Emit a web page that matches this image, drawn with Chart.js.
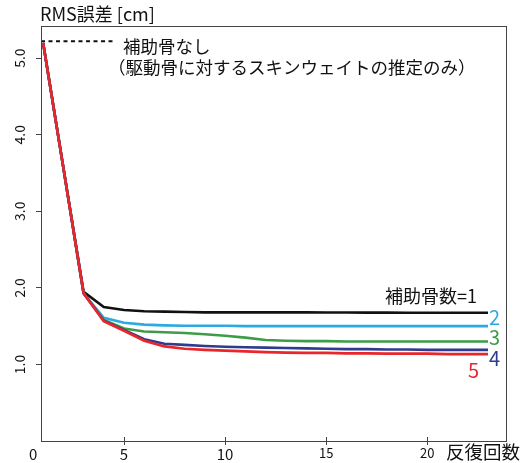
<!DOCTYPE html>
<html>
<head>
<meta charset="utf-8">
<script src="https://cdn.jsdelivr.net/npm/chart.js@4/dist/chart.umd.min.js"></script>
<style>
  html, body { margin: 0; padding: 0; background: #fff; }
  #wrap { width: 528px; height: 463px; }
</style>
</head>
<body>
<div id="wrap"><canvas id="chart"></canvas></div>
<script>
// Data
const iterations = [1, 2, 3, 4, 5, 6, 7, 8, 9, 10, 11, 12, 13, 14, 15, 16, 17, 18, 19, 20, 21, 22, 23];
const aux1 = [5.2, 3.57, 1.95, 1.75, 1.71, 1.695, 1.69, 1.685, 1.68, 1.68, 1.68, 1.68, 1.68, 1.68, 1.678, 1.678, 1.676, 1.676, 1.675, 1.675, 1.675, 1.675, 1.675];
const aux2 = [5.2, 3.57, 1.93, 1.61, 1.545, 1.52, 1.51, 1.505, 1.505, 1.505, 1.50, 1.50, 1.50, 1.50, 1.50, 1.50, 1.50, 1.50, 1.50, 1.50, 1.50, 1.50, 1.50];
const aux3 = [5.2, 3.57, 1.93, 1.58, 1.47, 1.43, 1.42, 1.41, 1.395, 1.375, 1.35, 1.32, 1.31, 1.305, 1.305, 1.30, 1.30, 1.30, 1.30, 1.30, 1.30, 1.30, 1.30];
const aux4 = [5.2, 3.57, 1.93, 1.57, 1.45, 1.33, 1.27, 1.255, 1.24, 1.23, 1.225, 1.22, 1.215, 1.21, 1.205, 1.20, 1.20, 1.195, 1.195, 1.19, 1.19, 1.19, 1.19];
const aux5 = [5.2, 3.57, 1.93, 1.565, 1.44, 1.31, 1.235, 1.205, 1.19, 1.18, 1.17, 1.16, 1.155, 1.15, 1.15, 1.145, 1.145, 1.14, 1.14, 1.14, 1.135, 1.135, 1.135];
const noAuxValue = 5.22;
const xTicks = [5, 10, 15, 20];
const yTicks = [1, 2, 3, 4, 5];
const yTickLabels = ['1.0', '2.0', '3.0', '4.0', '5.0'];

const FONT = '"Noto Sans CJK JP", "Noto Sans", sans-serif';
const AXIS = '#444';

const toPoints = arr => arr.map((v, i) => ({ x: iterations[i], y: v }));

function line(data, color, width) {
    return {
        data: toPoints(data),
        borderColor: color,
        borderWidth: width,
        pointRadius: 0,
        tension: 0,
        fill: false
    };
}

// text labels and frame
const decor = {
    id: 'decor',
    afterDraw(chart) {
        const ctx = chart.ctx;
        const a = chart.chartArea;
        const y = chart.scales.y;
        const x = chart.scales.x;
        ctx.save();
        ctx.strokeStyle = AXIS;
        ctx.lineWidth = 1;
        ctx.strokeRect(a.left + 0.5, a.top + 0.5, a.right - a.left, a.bottom - a.top);

        // small inner part of the x ticks
        ctx.beginPath();
        xTicks.forEach(v => {
            const px = Math.round(x.getPixelForValue(v)) + 0.5;
            ctx.moveTo(px, a.bottom);
            ctx.lineTo(px, a.bottom - 4);
        });
        ctx.stroke();

        // rotated y tick labels
        ctx.fillStyle = '#111';
        ctx.font = '14px ' + FONT;
        ctx.textAlign = 'center';
        ctx.textBaseline = 'middle';
        yTicks.forEach((v, i) => {
            ctx.save();
            ctx.translate(20, y.getPixelForValue(v));
            ctx.rotate(-Math.PI / 2);
            ctx.fillText(yTickLabels[i], 0, 0);
            ctx.restore();
        });

        ctx.textAlign = 'left';
        ctx.font = '15px ' + FONT;
        ctx.fillText('0', 29, 454);

        ctx.font = '18.5px ' + FONT;
        ctx.fillText('反復回数', 446, 452);

        ctx.font = '18px ' + FONT;
        ctx.fillText('RMS誤差 [cm]', 40, 14);

        ctx.font = '17.5px ' + FONT;
        ctx.fillText('補助骨なし', 123, 46);
        ctx.fillText('（駆動骨に対するスキンウェイトの推定のみ）', 108, 67);

        ctx.font = '18px ' + FONT;
        ctx.fillText('補助骨数=1', 385, 296);

        ctx.font = '20px ' + FONT;
        ctx.fillStyle = '#2ea9e0';
        ctx.fillText('2', 489, 317);
        ctx.fillStyle = '#3d9c47';
        ctx.fillText('3', 489, 337);
        ctx.fillStyle = '#2e3b8e';
        ctx.fillText('4', 489, 358);
        ctx.fillStyle = '#e8262b';
        ctx.fillText('5', 468, 370);
        ctx.restore();
    }
};

new Chart(document.getElementById('chart'), {
    type: 'line',
    data: {
        datasets: [
            line(aux5, '#e8262b', 2.7),
            line(aux4, '#2e3b8e', 2.6),
            line(aux3, '#3d9c47', 2.6),
            line(aux2, '#2ea9e0', 2.6),
            line(aux1, '#111', 2.6),
            {
                data: [{ x: 0.895, y: noAuxValue }, { x: 4.45, y: noAuxValue }],
                borderColor: '#111',
                borderWidth: 2,
                borderDash: [4, 3.5],
                pointRadius: 0
            }
        ]
    },
    options: {
        responsive: true,
        maintainAspectRatio: false,
        animation: false,
        layout: { padding: { left: 0, top: 26, right: 22, bottom: 0 } },
        plugins: {
            legend: { display: false },
            tooltip: { enabled: false }
        },
        scales: {
            x: {
                type: 'linear',
                min: 0.895,
                max: 23.89,
                afterBuildTicks: s => { s.ticks = xTicks.map(v => ({ value: v })); },
                afterFit: s => { s.height = 22; },
                grid: { drawOnChartArea: false, drawTicks: true, tickLength: 4, color: AXIS },
                border: { color: AXIS },
                ticks: {
                    color: '#111',
                    padding: 0,
                    maxRotation: 0,
                    font: c => ({ family: FONT, size: c.tick && c.tick.value >= 15 ? 13 : 15 })
                }
            },
            y: {
                min: 0,
                max: 5.42,
                afterBuildTicks: s => { s.ticks = yTicks.map(v => ({ value: v })); },
                afterFit: s => { s.width = 41; },
                grid: { drawOnChartArea: false, drawTicks: true, tickLength: 5, color: AXIS },
                border: { color: AXIS },
                ticks: { display: false }
            }
        }
    },
    plugins: [decor]
});
</script>
</body>
</html>
